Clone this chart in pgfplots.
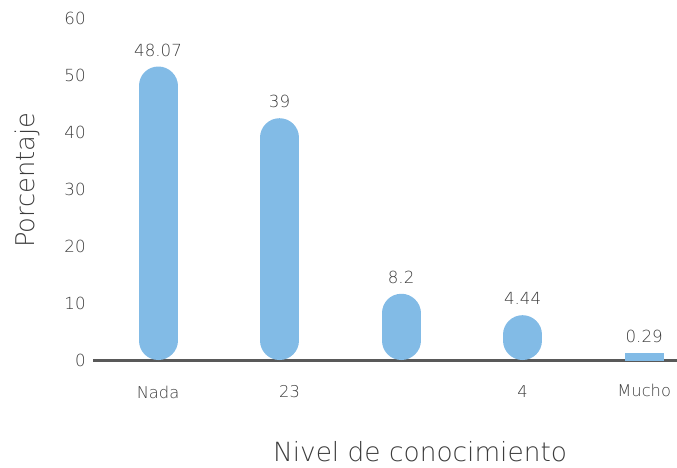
\documentclass[border=0pt]{standalone}
\usepackage{pgfplots}
\pgfplotsset{compat=1.18}
\usepackage{fontspec}
\setmainfont{DejaVu Sans ExtraLight}
\definecolor{barblue}{HTML}{82BBE6}
\definecolor{txtgray}{HTML}{3C3C3C}
\definecolor{axgray}{HTML}{595959}
\pgfplotsset{/pgf/number format/assume math mode=true}
\begin{document}
\begin{tikzpicture}
\begin{axis}[
  at={(0pt,0pt)}, anchor=south west,
  scale only axis,
  width=438pt, height=256.5pt,
  xmin=-0.535, xmax=4.27,
  ymin=0, ymax=60,
  axis x line*=bottom,
  axis y line*=left,
  y axis line style={draw=none},
  x axis line style={draw=axgray, line width=2.25pt},
  major tick length=0pt,
  ytick={0,10,20,30,40,50,60},
  xtick={0,1,2,3,4},
  xticklabels={Nada,{\hspace*{15pt}23},,4,{\raisebox{3pt}{Mucho}}},
  yticklabel style={font=\fontsize{12.5}{14}\selectfont, text=txtgray, anchor=east, xshift=-2pt},
  xticklabel style={font=\fontsize{12.2}{14}\selectfont, text=txtgray, anchor=center, yshift=-24pt},
  ylabel={Porcentaje},
  xlabel={Nivel de conocimiento},
  ylabel style={font=\fontsize{19.3}{22}\selectfont, text=txtgray, at={(axis description cs:-0.113,0.526)}, anchor=center},
  xlabel style={font=\fontsize{19.8}{22}\selectfont, text=txtgray, at={(axis description cs:0.56,-0.269)}, anchor=center},
  clip=true,
  /pgf/number format/fixed, /pgf/number format/precision=2,
]
% pill bars: a round-capped stroke from the cap radius (3.42 units) up to the value
\addplot[draw=none, mark=none,
  nodes near coords,
  nodes near coords style={font=\fontsize{12.5}{14}\selectfont, text=txtgray, anchor=center, yshift=27pt},
  error bars/.cd, y dir=minus, y explicit, error mark=none,
  error bar style={draw=barblue, line width=29.25pt, line cap=round}]
  table[x=x, y=y, y error minus expr={\thisrow{y}-3.42}] {
x y
0 48.07
1 39
2 8.2
3 4.44
};
\addplot[ybar, bar shift=0pt, bar width=21.5pt, fill=barblue, draw=barblue, line width=7.8pt,
  nodes near coords,
  nodes near coords style={font=\fontsize{12.5}{14}\selectfont, text=txtgray, anchor=center, yshift=16.5pt, line width=0.4pt}]
  coordinates {(4,0.29)};
\end{axis}
\pgfresetboundingbox
\useasboundingbox (-69.75pt,-80.25pt) rectangle (438pt,270pt);
\end{tikzpicture}
\end{document}
